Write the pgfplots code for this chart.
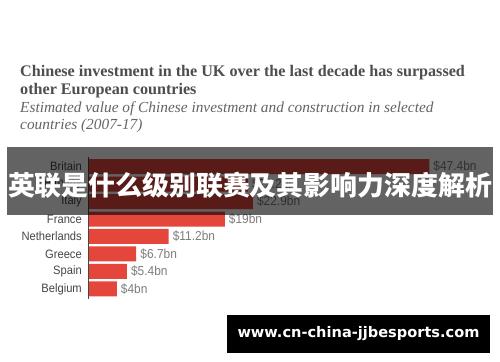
\documentclass[border=0pt]{standalone}
\usepackage{pgfplots}
\pgfplotsset{compat=1.18}
\usepackage{graphicx}
\usepackage{fontspec}
\setmainfont{Liberation Serif}
\newfontfamily\labelfont[FakeStretch=0.92]{Liberation Sans}
\newfontfamily\cjk{Noto Sans CJK SC}
\newfontfamily\wm{DejaVu Sans}
\definecolor{barred}{RGB}{229,70,60}
\definecolor{titlegray}{RGB}{78,78,78}
\definecolor{subgray}{RGB}{100,100,100}
\definecolor{labelgray}{RGB}{70,70,70}
\definecolor{valgray}{RGB}{125,125,125}
\begin{document}
\begin{tikzpicture}
\path[use as bounding box, fill=white] (0,0) rectangle (500bp,-362bp);
\node[anchor=base west, inner sep=0, text=titlegray, font=\fontsize{16.2}{18}\selectfont\bfseries] at (20bp,-76.5bp) {Chinese investment in the UK over the last decade has surpassed};
\node[anchor=base west, inner sep=0, text=titlegray, font=\fontsize{16.2}{18}\selectfont\bfseries] at (20bp,-94bp) {other European countries};
\node[anchor=base west, inner sep=0, text=subgray, font=\fontsize{15.4}{18}\selectfont\itshape] at (20bp,-112bp) {Estimated value of Chinese investment and construction in selected};
\node[anchor=base west, inner sep=0, text=subgray, font=\fontsize{15.4}{18}\selectfont\itshape] at (20bp,-129bp) {countries (2007-17)};
\begin{axis}[
  at={(88bp,-157.75bp)}, anchor=north west,
  scale only axis, width=360bp, height=140bp,
  xmin=0, xmax=50, ymin=-0.5, ymax=7.5, y dir=reverse,
  xbar, bar width=15bp, bar shift=0pt,
  ytick={0,1,2,3,4,5,6,7},
  yticklabels={Britain,Germany,Italy,France,Netherlands,Greece,Spain,Belgium},
  axis line style={draw=none}, xtick=\empty, major tick length=0pt,
  yticklabel style={font=\labelfont\fontsize{12.2}{14}\selectfont, text=labelgray, inner sep=0pt, xshift=-6bp},
  nodes near coords, point meta=explicit symbolic,
  nodes near coords style={font=\labelfont\fontsize{13}{14}\selectfont, text=valgray, inner sep=0pt, anchor=west, xshift=4bp},
  clip=false]
\addplot[fill=barred, draw=none] coordinates {
 (47.4,0) [\$47.4bn]
 (22.2,1) [\$22.2bn]
 (22.9,2) [\$22.9bn]
 (19,3) [\$19bn]
 (11.2,4) [\$11.2bn]
 (6.7,5) [\$6.7bn]
 (5.4,6) [\$5.4bn]
 (4,7) [\$4bn]
};
\draw[labelgray, line width=0.8bp] (axis cs:0,-0.55) -- (axis cs:0,7.6);
\end{axis}
\fill[black, opacity=0.61] (7bp,-147bp) rectangle (493bp,-215bp);
\node[text=white, inner sep=0] at (250bp,-185.5bp) {\resizebox{484bp}{!}{\cjk\bfseries 英联是什么级别联赛及其影响力深度解析}};
\fill[black] (227bp,-315bp) rectangle (490bp,-353bp);
\node[text=white, inner sep=0] at (358.5bp,-334bp) {\resizebox{242bp}{!}{\wm\bfseries www.cn-china-jjbesports.com}};
\end{tikzpicture}
\end{document}
